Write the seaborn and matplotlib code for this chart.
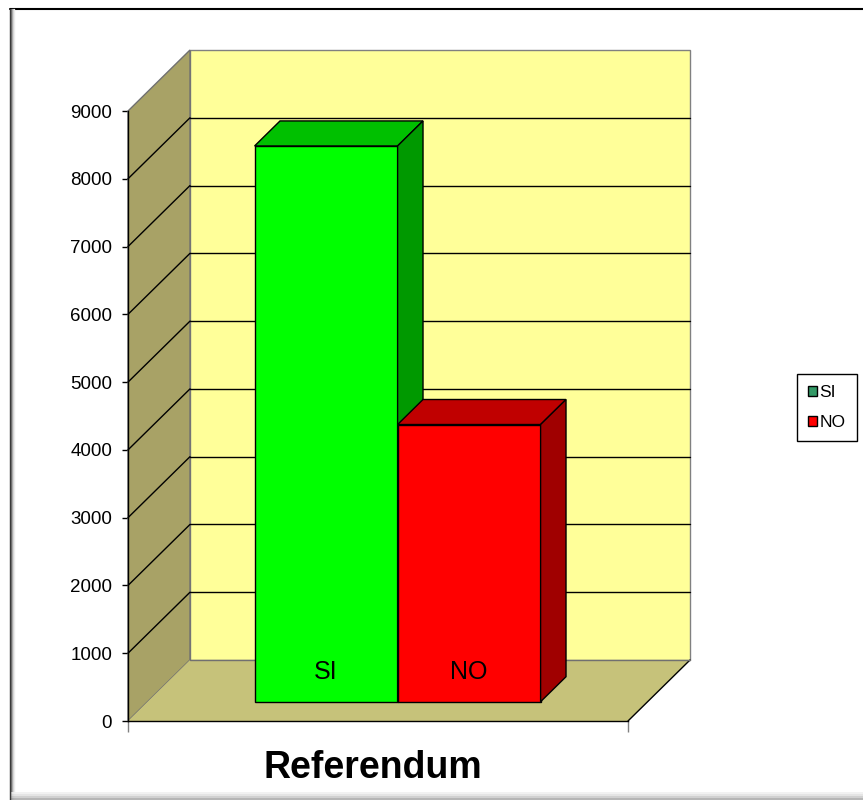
import matplotlib
matplotlib.use("Agg")
import matplotlib.pyplot as plt
from matplotlib.patches import Polygon, Rectangle, Patch
from matplotlib.lines import Line2D
import pandas as pd
import seaborn as sns

# dati
categoria = ['Referendum']
voto_labels = ['SI', 'NO']
voti = [8200, 4090]
y_ticks = [0, 1000, 2000, 3000, 4000, 5000, 6000, 7000, 8000, 9000]

front_colors = ['#00FF00', '#FF0000']
top_colors = ['#00C000', '#C00000']
side_colors = ['#009900', '#A00000']
legend_colors = ['#339966', '#FF0000']

W, H = 863, 800
sns.set_style('white')
plt.rcParams['font.family'] = ['Liberation Sans', 'DejaVu Sans']
plt.rcParams['text.color'] = 'black'
plt.rcParams['xtick.color'] = 'black'
plt.rcParams['ytick.color'] = 'black'

fig = plt.figure(figsize=(W / 100, H / 100), dpi=100)
ax = fig.add_axes([128 / W, (H - 721) / H, 500 / W, 610 / H])

df = pd.DataFrame({'categoria': categoria * len(voto_labels),
                   'voto': voto_labels,
                   'valore': voti})
sns.barplot(data=df, x='categoria', y='valore', hue='voto', palette=front_colors,
            saturation=1, width=0.572, dodge=True, legend=False,
            edgecolor='black', linewidth=1, ax=ax)

ymax = y_ticks[-1]
ax.set_xlim(-0.5, 0.5)
ax.set_ylim(0, ymax)

# oblique 3d depth, in data units (62px right, 61px up)
sx = 500 / 1.0
sy = 610 / ymax
DX, DY = 62 / sx, 61 / sy
f0, f1 = 0.316, 0.726
x0, x1 = -0.5, 0.5

# walls and floor
ax.add_patch(Rectangle((x0 + DX, DY), x1 - x0, ymax, facecolor='#FFFF99',
                       edgecolor='#808080', lw=1, zorder=1, clip_on=False))
ax.add_patch(Polygon([(x0, 0), (x0 + DX, DY), (x0 + DX, ymax + DY), (x0, ymax)],
                     closed=True, facecolor='#A8A266', edgecolor='#707070', lw=1,
                     zorder=1.2, clip_on=False))
ax.add_patch(Polygon([(x0, 0), (x1, 0), (x1 + DX, DY), (x0 + DX, DY)],
                     closed=True, facecolor='#C6C27A', edgecolor='none',
                     zorder=1.2, clip_on=False))
ax.plot([x1, x1 + DX], [0, DY], color='black', lw=1, zorder=1.5, clip_on=False)
ax.plot([x0 + DX, x1 + DX], [DY, DY], color='#707070', lw=1, zorder=1.5, clip_on=False)
for v in y_ticks[1:-1]:
    ax.plot([x0 + DX, x1 + DX], [v + DY, v + DY], color='black', lw=1, zorder=1.5, clip_on=False)
    ax.plot([x0, x0 + DX], [v, v + DY], color='black', lw=1, zorder=1.5, clip_on=False)

# bars: move front face into depth and add top/side faces
ddx, ddy = (f1 - f0) * DX, (f1 - f0) * DY
for i, cont in enumerate(ax.containers):
    for rect in cont:
        z = 5 + i
        h = rect.get_height()
        xl = rect.get_x() + f0 * DX
        w = rect.get_width()
        yb = f0 * DY
        rect.set_x(xl)
        rect.set_y(yb)
        rect.set_zorder(z)
        rect.set_clip_on(False)
        xr, yt = xl + w, yb + h
        ax.add_patch(Polygon([(xl, yt), (xr, yt), (xr + ddx, yt + ddy), (xl + ddx, yt + ddy)],
                             closed=True, facecolor=top_colors[i], edgecolor='black',
                             lw=1, zorder=z, clip_on=False))
        ax.add_patch(Polygon([(xr, yb), (xr + ddx, yb + ddy), (xr + ddx, yt + ddy), (xr, yt)],
                             closed=True, facecolor=side_colors[i], edgecolor='black',
                             lw=1, zorder=z, clip_on=False))
        ax.text(xl + w / 2, yb + 438, voto_labels[i], ha='center', va='center',
                fontsize=18, color='black', zorder=10)

# axes styling
ax.set_yticks(y_ticks)
ax.set_xticks([x0, x1])
ax.set_xticklabels([])
ax.set_xlabel('')
ax.set_ylabel('')
ax.tick_params(axis='y', length=4.5, width=1, color='black', labelcolor='black',
               pad=7, labelsize=13.5, left=True)
ax.tick_params(axis='x', length=8, width=1, color='#808080', bottom=True)
for side in ['top', 'right']:
    ax.spines[side].set_visible(False)
for side in ['left', 'bottom']:
    ax.spines[side].set_color('black')
    ax.spines[side].set_linewidth(1)
    ax.spines[side].set_zorder(3)

fig.text(373 / W, 1 - 778 / H, categoria[0], ha='center', va='baseline',
         fontsize=27, fontweight='bold', color='black')

handles = [Patch(facecolor=c, edgecolor='black', label=l)
           for c, l in zip(legend_colors, voto_labels)]
leg = fig.legend(handles=handles, loc='upper left', bbox_to_anchor=(797 / W, 1 - 374 / H),
                 frameon=True, fancybox=False, edgecolor='black', framealpha=1,
                 fontsize=12.5, handlelength=0.5, handleheight=0.5, handletextpad=0.15,
                 labelspacing=0.85, borderpad=0.65, borderaxespad=0)
leg.get_frame().set_linewidth(1)
for t in leg.get_texts():
    t.set_color('black')

# chart area frame
fig.add_artist(Line2D([10 / W, 1], [1 - 9 / H, 1 - 9 / H], color='black', lw=1.5))
for dx, c in [(10, '#303030'), (11, '#606060'), (12, '#a0a0a0'), (13, '#d0d0d0'), (14, '#ececec')]:
    fig.add_artist(Line2D([dx / W, dx / W], [0, 1 - 9 / H], color=c, lw=1))
for dy, c in [(793, '#f0f0f0'), (795, '#e0e0e0'), (797, '#c8c8c8'), (799, '#a8a8a8')]:
    fig.add_artist(Line2D([12 / W, 1], [1 - dy / H, 1 - dy / H], color=c, lw=1.2))

fig.savefig('out.png', dpi=100)
